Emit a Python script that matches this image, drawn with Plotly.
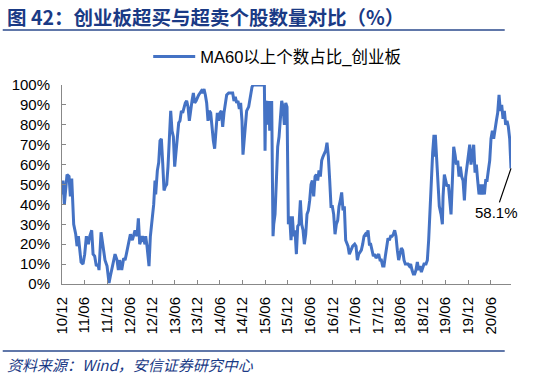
import plotly.graph_objects as go

# Decimal-year positions and values (%)
years = [
    2010.917, 2010.940, 2010.969, 2011.028, 2011.073, 2011.102, 2011.132, 2011.161, 2011.176, 2011.221,
    2011.250, 2011.280, 2011.309, 2011.339, 2011.383, 2011.420, 2011.457, 2011.501, 2011.531, 2011.575,
    2011.605, 2011.641, 2011.678, 2011.715, 2011.737, 2011.782, 2011.826, 2011.870, 2011.915, 2011.959,
    2011.989, 2012.033, 2012.092, 2012.136, 2012.166, 2012.195, 2012.240, 2012.284, 2012.314, 2012.343,
    2012.387, 2012.432, 2012.476, 2012.535, 2012.579, 2012.609, 2012.639, 2012.698, 2012.757, 2012.771,
    2012.801, 2012.845, 2012.875, 2012.919, 2012.949, 2012.978, 2012.993, 2013.030, 2013.060, 2013.089,
    2013.119, 2013.148, 2013.178, 2013.207, 2013.237, 2013.266, 2013.296, 2013.326, 2013.355, 2013.385,
    2013.414, 2013.444, 2013.473, 2013.503, 2013.532, 2013.562, 2013.591, 2013.621, 2013.650, 2013.680,
    2013.710, 2013.739, 2013.769, 2013.798, 2013.828, 2013.857, 2013.887, 2013.916, 2013.946, 2013.975,
    2014.005, 2014.035, 2014.064, 2014.094, 2014.123, 2014.153, 2014.182, 2014.212, 2014.241, 2014.271,
    2014.300, 2014.330, 2014.359, 2014.389, 2014.419, 2014.448, 2014.478, 2014.507, 2014.537, 2014.566,
    2014.611, 2014.655, 2014.699, 2014.729, 2014.758, 2014.788, 2014.817, 2014.847, 2014.876, 2014.906,
    2014.928, 2014.950, 2014.980, 2015.009, 2015.054, 2015.083, 2015.128, 2015.151, 2015.250, 2015.330,
    2015.402, 2015.417, 2015.432, 2015.461, 2015.476, 2015.491, 2015.505, 2015.520, 2015.535, 2015.550,
    2015.564, 2015.579, 2015.594, 2015.609, 2015.638, 2015.668, 2015.697, 2015.727, 2015.756, 2015.786,
    2015.816, 2015.845, 2015.875, 2015.904, 2015.934, 2015.963, 2015.993, 2016.022, 2016.052, 2016.081,
    2016.111, 2016.141, 2016.170, 2016.200, 2016.229, 2016.259, 2016.288, 2016.318, 2016.347, 2016.377,
    2016.406, 2016.436, 2016.465, 2016.495, 2016.525, 2016.554, 2016.584, 2016.613, 2016.643, 2016.672,
    2016.702, 2016.731, 2016.761, 2016.790, 2016.820, 2016.850, 2016.879, 2016.909, 2016.938, 2016.968,
    2016.997, 2017.027, 2017.056, 2017.086, 2017.115, 2017.145, 2017.174, 2017.204, 2017.234, 2017.256,
    2017.285, 2017.330, 2017.359, 2017.404, 2017.433, 2017.463, 2017.492, 2017.522, 2017.551, 2017.581,
    2017.610, 2017.640, 2017.669, 2017.699, 2017.729, 2017.758, 2017.788, 2017.817, 2017.847, 2017.876,
    2017.906, 2017.935, 2017.965, 2017.994, 2018.024, 2018.053, 2018.083, 2018.113, 2018.142, 2018.172,
    2018.201, 2018.231, 2018.260, 2018.290, 2018.319, 2018.349, 2018.378, 2018.408, 2018.438, 2018.467,
    2018.497, 2018.526, 2018.556, 2018.585, 2018.615, 2018.644, 2018.674, 2018.703, 2018.733, 2018.762,
    2018.792, 2018.822, 2018.851, 2018.881, 2018.910, 2018.940, 2018.984, 2019.014, 2019.043, 2019.073,
    2019.102, 2019.132, 2019.161, 2019.176, 2019.191, 2019.220, 2019.250, 2019.279, 2019.318, 2019.347,
    2019.362, 2019.391, 2019.421, 2019.450, 2019.480, 2019.510, 2019.539, 2019.569, 2019.598, 2019.628,
    2019.657, 2019.687, 2019.716, 2019.746, 2019.775, 2019.805, 2019.835, 2019.864, 2019.894, 2019.923,
    2019.953, 2019.982, 2020.012, 2020.041, 2020.071, 2020.100, 2020.130, 2020.159, 2020.189, 2020.219,
    2020.248, 2020.278, 2020.307, 2020.337, 2020.366, 2020.396, 2020.425, 2020.455, 2020.484, 2020.514,
    2020.544, 2020.573, 2020.603, 2020.632, 2020.662, 2020.691, 2020.721, 2020.750, 2020.780, 2020.809,
    2020.839, 2020.868,
]

values = [
    45, 52, 40, 55, 54, 44, 53, 42, 30, 25,
    19, 24, 17, 11, 10, 15, 24, 20, 24, 27,
    15, 14, 9, 10, 7, 26, 19, 12, 9, 0.5,
    4, 9, 15, 12, 7, 12, 7, 13, 12, 15,
    21, 25, 22, 27, 24, 33, 20, 24, 20, 24,
    19, 9, 24, 32, 40, 52, 45, 57, 61, 72,
    73, 61, 47, 49, 50, 59, 77, 87, 77, 74,
    59, 66, 74, 81, 82, 87, 86, 89, 91, 92,
    89, 82, 89, 92, 96, 91, 92, 94, 95, 96,
    97, 96, 98, 95, 91, 82, 87, 86, 77, 72,
    68, 79, 86, 82, 86, 87, 79, 86, 92, 95,
    96, 96, 96, 92, 94, 91, 92, 88, 91, 82,
    65, 71, 82, 87, 89, 94, 99, 100, 100, 100,
    100, 67, 92, 86, 92, 80, 90, 77, 92, 80,
    92, 56, 24, 30, 35, 52, 69, 74, 84, 92,
    89, 80, 91, 89, 30, 34, 22, 34, 24, 27,
    15, 29, 30, 42, 30, 27, 20, 25, 35, 37,
    42, 50, 52, 44, 54, 55, 52, 57, 54, 62,
    64, 66, 67, 71, 64, 52, 39, 39, 35, 25,
    30, 32, 39, 42, 46, 37, 39, 22, 20, 19,
    15, 17, 19, 20, 19, 12, 15, 16, 17, 20,
    24, 25, 24, 27, 20, 20, 17, 14, 15, 13,
    14, 15, 12, 12, 9, 9, 14, 19, 23, 22,
    24, 24, 25, 27, 24, 17, 12, 15, 18, 17,
    12, 10, 10, 10, 9, 10, 7, 5, 5, 7,
    11, 7, 9, 6, 8, 10, 10, 12, 22, 39,
    54, 66, 75, 64, 75, 61, 46, 39, 35, 30,
    44, 55, 52, 49, 50, 42, 35, 52, 69, 65,
    60, 62, 54, 59, 54, 52, 42, 54, 59, 64,
    70, 60, 65, 70, 56, 60, 52, 45, 50, 45,
    50, 45, 52, 52, 57, 62, 73, 77, 73, 79,
    82, 86, 95, 87, 90, 83, 87, 80, 82, 79,
    73, 58.1,
]

tick_labels = ["10/12", "11/06", "11/12", "12/06", "12/12", "13/06", "13/12", "14/06",
               "14/12", "15/06", "15/12", "16/06", "16/12", "17/06", "17/12", "18/06",
               "18/12", "19/06", "19/12", "20/06"]
tick_vals = [2000 + int(t[:2]) + (int(t[3:]) - 1) / 12 for t in tick_labels]

series_name = "MA60以上个数占比_创业板"
title_text = "图 42：创业板超买与超卖个股数量对比（%）"
source_text = "资料来源：Wind，安信证券研究中心"

LATIN = "Liberation Sans, Arial, Noto Sans CJK SC, sans-serif"
CJK = "Noto Sans CJK SC, Liberation Sans, sans-serif"
NAVY = "#1A3A85"

fig = go.Figure()
fig.add_trace(go.Scatter(
    x=years, y=values, mode="lines", name=series_name,
    line=dict(color="#4472C4", width=3),
))

fig.update_layout(
    width=550, height=377,
    margin=dict(l=62, r=39, t=85, b=93),
    paper_bgcolor="white", plot_bgcolor="white",
    showlegend=True,
    legend=dict(
        orientation="h", x=0.192, y=1.23, xanchor="left", yanchor="top",
        font=dict(family=LATIN, size=16.5, color="black"),
        bgcolor="rgba(0,0,0,0)", itemwidth=42,
    ),
    xaxis=dict(
        range=[tick_vals[0], years[-1]],
        tickmode="array", tickvals=tick_vals, ticktext=tick_labels,
        tickangle=-90, ticks="inside", ticklen=4, tickcolor="#888",
        showline=True, linecolor="#888", linewidth=1,
        showgrid=False, zeroline=False,
        tickfont=dict(family=LATIN, size=15, color="black"),
        ticklabelstandoff=6,
    ),
    yaxis=dict(
        range=[0, 100], dtick=10, ticksuffix="%",
        ticks="inside", ticklen=4, tickcolor="#888",
        showline=True, linecolor="#888", linewidth=1,
        showgrid=False, zeroline=False,
        tickfont=dict(family=LATIN, size=15, color="black"),
        ticklabelstandoff=8,
    ),
)

fig.add_annotation(
    xref="paper", yref="paper", x=-0.127, y=1.342, xanchor="left", yanchor="middle",
    text="<b>" + title_text + "</b>", showarrow=False,
    font=dict(family=CJK, size=19.5, color=NAVY),
)
fig.add_annotation(
    xref="paper", yref="paper", x=-0.127, y=-0.407, xanchor="left", yanchor="middle",
    text="<i>" + source_text + "</i>", showarrow=False,
    font=dict(family=CJK, size=15, color=NAVY),
)
fig.add_shape(type="line", xref="paper", yref="paper", x0=-0.132, x1=0.986, y0=1.276, y1=1.276,
              line=dict(color="#2B4A8C", width=1.5))
fig.add_shape(type="line", xref="paper", yref="paper", x0=-0.132, x1=0.986, y0=-0.337, y1=-0.337,
              line=dict(color="#2B4A8C", width=1.5))

fig.add_annotation(
    x=years[-1], y=values[-1], xref="x", yref="y",
    text=f"{values[-1]}%", showarrow=True, arrowhead=0, arrowwidth=1.2,
    arrowcolor="black", ax=-15, ay=44, standoff=0,
    font=dict(family=LATIN, size=15, color="black"),
)

fig.write_html(
    "out.html",
    config={"displayModeBar": False},
    post_script="document.body.style.margin='0';document.body.style.overflow='hidden';",
)
